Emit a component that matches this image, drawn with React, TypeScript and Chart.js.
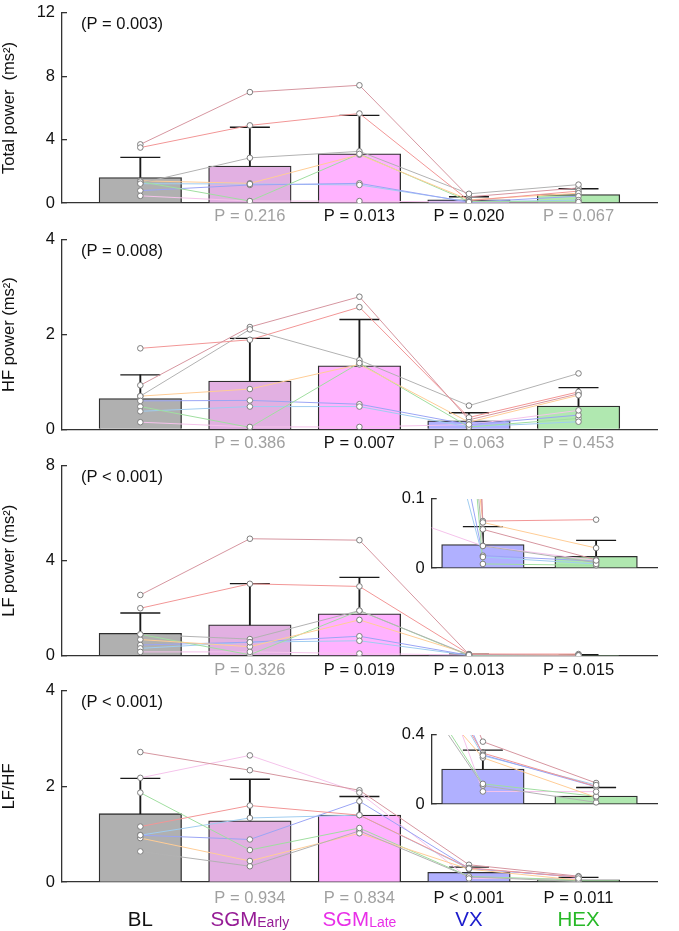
import React, { useEffect, useRef } from 'react';
import { Chart, registerables } from 'chart.js';

Chart.register(...registerables);

// ---------------- data ----------------
const CATEGORY_X = [0, 1, 2, 3, 4];
const CATEGORIES = ['BL', 'SGM', 'SGM', 'VX', 'HEX'];
const CATEGORY_SUBS = ['', 'Early', 'Late', '', ''];

// Total power (ms²)
const TOTAL_TICKS = [0, 4, 8, 12];
const TOTAL_MEAN = [1.6, 2.33, 3.1, 0.2, 0.53];
const TOTAL_SD_TOP = [2.88, 4.78, 5.53, 0.39, 0.9];
const TOTAL_SUBJECTS = [
  [3.7, 7.0, 7.43, 0.39, 0.95],
  [3.5, 4.9, 5.65, 0.15, 0.75],
  [1.25, 2.85, 3.26, 0.58, 1.16],
  [1.4, 1.24, 3.05, 0.2, 0.62],
  [1.35, 0.12, 3.1, 0.1, 0.1],
  [0.78, 1.14, 1.24, 0.05, 0.43],
  [1.22, 1.2, 1.14, 0.08, 0.18],
  [0.45, 0.12, 0.12, 0.06, 0.06],
];
const TOTAL_P = ['', 'P = 0.216', 'P = 0.013', 'P = 0.020', 'P = 0.067'];
const TOTAL_OVERALL = '(P = 0.003)';

// HF power (ms²)
const HF_TICKS = [0, 2, 4];
const HF_MEAN = [0.65, 1.02, 1.34, 0.18, 0.49];
const HF_SD_TOP = [1.15, 1.92, 2.32, 0.35, 0.88];
const HF_SUBJECTS = [
  [0.93, 2.16, 2.8, 0.2, 0.75],
  [1.71, 1.89, 2.58, 0.25, 0.79],
  [0.7, 2.11, 1.46, 0.5, 1.18],
  [0.7, 0.85, 1.37, 0.15, 0.72],
  [0.48, 0.04, 1.4, 0.05, 0.23],
  [0.6, 0.61, 0.53, 0.1, 0.3],
  [0.38, 0.48, 0.48, 0.05, 0.16],
  [0.15, 0.05, 0.05, 0.1, 0.4],
];
const HF_P = ['', 'P = 0.386', 'P = 0.007', 'P = 0.063', 'P = 0.453'];
const HF_OVERALL = '(P = 0.008)';

// LF power (ms²)
const LF_TICKS = [0, 4, 8];
const LF_INSET_TICKS = [0, 0.1];
const LF_MEAN = [0.94, 1.3, 1.77, 0.034, 0.017];
const LF_SD_TOP = [1.8, 3.04, 3.3, 0.06, 0.04];
const LF_SUBJECTS = [
  [2.56, 4.93, 4.87, 0.056, 0.012],
  [2.0, 3.03, 2.92, 0.068, 0.07],
  [0.9, 0.7, 1.9, 0.032, 0.008],
  [0.68, 0.38, 1.51, 0.066, 0.029],
  [0.9, 0.04, 1.9, 0.006, 0.004],
  [0.45, 0.57, 0.82, 0.018, 0.01],
  [0.31, 0.57, 0.63, 0.016, 0.006],
  [0.16, 0.16, 0.09, 0.032, 0.011],
];
const LF_P = ['', 'P = 0.326', 'P = 0.019', 'P = 0.013', 'P = 0.015'];
const LF_OVERALL = '(P < 0.001)';

// LF/HF
const RATIO_TICKS = [0, 2, 4];
const RATIO_INSET_TICKS = [0, 0.4];
const RATIO_MEAN = [1.43, 1.28, 1.4, 0.202, 0.046];
const RATIO_SD_TOP = [2.17, 2.15, 1.79, 0.312, 0.096];
const RATIO_SUBJECTS = [
  [2.72, 2.34, 1.92, 0.361, 0.122],
  [1.16, 1.6, 1.4, 0.295, 0.102],
  [0.64, 0.33, 1.07, 0.107, 0.01],
  [0.92, 0.44, 1.02, 0.268, 0.039],
  [1.87, 0.67, 1.13, 0.117, 0.045],
  [0.98, 0.89, 1.69, 0.285, 0.1],
  [0.98, 1.34, 1.4, 0.28, 0.11],
  [2.18, 2.65, 1.87, 0.073, 0.072],
];
const RATIO_P = ['', 'P = 0.934', 'P = 0.834', 'P < 0.001', 'P = 0.011'];
const RATIO_OVERALL = '(P < 0.001)';

// ---------------- styles / layout ----------------
const FONT = '"Liberation Sans", Arial, Helvetica, sans-serif';
const W = 679;
const H = 931;
const AXIS_COLOR = '#333333';
const TEXT_COLOR = '#111111';
const GRAY_TEXT = 'rgb(160,160,160)';
const ERR_COLOR = '#1a1a1a';
const BAR_EDGE = '#2e2e2e';
const BAR_COLORS = ['rgb(176,176,176)', 'rgb(226,176,226)', 'rgb(255,178,255)', 'rgb(176,176,255)', 'rgb(176,232,176)'];
const LABEL_COLORS = ['#111111', 'rgb(150,28,150)', 'rgb(232,48,232)', 'rgb(28,28,205)', 'rgb(40,185,40)'];
const SUBJECT_COLORS = [
  'rgb(214,150,160)',
  'rgb(242,150,150)',
  'rgb(178,178,178)',
  'rgb(255,205,150)',
  'rgb(160,222,160)',
  'rgb(155,165,245)',
  'rgb(160,205,240)',
  'rgb(245,195,235)',
];
const X_MIN = -0.715;
const X_MAX = 4.722;
const INSET_X_MIN = 2.548;
const INSET_X_MAX = 4.543;
const AXIS_LEFT = 62;
const INSET_LEFT = 431.7;
const INSET_RIGHT = 657.7;

const isSig = (t: string) => t.includes('<') || parseFloat(t.split('=')[1]) < 0.05;

type Cfg = {
  means: number[];
  sdTop: number[];
  subjects: number[][];
  ticks: number[];
  title?: string;
  pLabels?: string[];
  overall?: string;
  showCats?: boolean;
  pOffset?: number;
  inset?: boolean;
  top: number;
  bottom: number;
};

function geometry(c: Cfg) {
  if (c.inset) {
    const canvasTop = Math.floor(c.top) - 14;
    const canvasH = Math.ceil(c.bottom - canvasTop) + 16;
    return {
      canvasTop,
      canvasH,
      padding: {
        left: INSET_LEFT - AXIS_LEFT,
        right: W - INSET_RIGHT,
        top: c.top - canvasTop,
        bottom: canvasH - (c.bottom - canvasTop),
      },
    };
  }
  const canvasTop = Math.floor(c.top) - 16;
  const canvasH = c.showCats ? H - canvasTop : Math.ceil(c.bottom - canvasTop) + 32;
  return {
    canvasTop,
    canvasH,
    padding: { left: 0, right: 1, top: c.top - canvasTop, bottom: canvasH - (c.bottom - canvasTop) },
  };
}

function buildConfig(c: Cfg, padding: any): any {
  const clip = c.inset ? 0 : undefined;
  const datasets: any[] = [
    {
      type: 'bar',
      data: CATEGORY_X.map((x, i) => ({ x, y: c.means[i] })),
      backgroundColor: BAR_COLORS,
      borderColor: BAR_EDGE,
      borderWidth: 1.3,
      barThickness: 82.5,
      grouped: false,
      order: 10,
      clip,
    },
    {
      type: 'bar',
      data: CATEGORY_X.map((x, i) => ({ x, y: [c.means[i], c.sdTop[i]] })),
      backgroundColor: ERR_COLOR,
      borderWidth: 0,
      barThickness: 1.2,
      grouped: false,
      order: 9,
      clip,
    },
    {
      type: 'scatter',
      data: CATEGORY_X.map((x, i) => ({ x, y: c.sdTop[i] })),
      pointStyle: 'line',
      pointRadius: 20,
      pointBorderWidth: 1.4,
      pointBorderColor: ERR_COLOR,
      borderColor: ERR_COLOR,
      order: 8,
      clip,
    },
    ...c.subjects.map((s, k) => ({
      type: 'line',
      data: CATEGORY_X.map((x, i) => ({ x, y: s[i] })),
      borderColor: SUBJECT_COLORS[k],
      borderWidth: 1,
      pointRadius: 0,
      tension: 0,
      fill: false,
      order: 5,
      clip,
    })),
    {
      type: 'scatter',
      data: c.subjects.flatMap((s) => CATEGORY_X.map((x, i) => ({ x, y: s[i] }))),
      pointRadius: 2.8,
      pointBorderWidth: 1,
      pointBackgroundColor: '#ffffff',
      pointBorderColor: 'rgb(125,125,125)',
      order: 1,
      clip: c.inset ? { left: 0, top: 4, right: 4, bottom: 4 } : undefined,
    },
  ];

  const textPlugin = {
    id: 'panelText',
    afterDraw(chart: any) {
      const { ctx, chartArea } = chart;
      const xs = chart.scales.x;
      ctx.save();
      ctx.textBaseline = 'middle';
      ctx.font = `16.5px ${FONT}`;
      if (c.overall) {
        ctx.textAlign = 'left';
        ctx.fillStyle = TEXT_COLOR;
        ctx.fillText(c.overall, chartArea.left + 19, chartArea.top + 11.5);
      }
      if (c.pLabels) {
        ctx.textAlign = 'center';
        c.pLabels.forEach((t, i) => {
          if (!t) return;
          ctx.fillStyle = isSig(t) ? TEXT_COLOR : GRAY_TEXT;
          ctx.fillText(t, xs.getPixelForValue(CATEGORY_X[i]), chartArea.bottom + (c.pOffset || 14));
        });
      }
      if (c.showCats) {
        ctx.textBaseline = 'alphabetic';
        ctx.textAlign = 'left';
        CATEGORIES.forEach((name, i) => {
          const sub = CATEGORY_SUBS[i];
          ctx.font = `20.5px ${FONT}`;
          const w1 = ctx.measureText(name).width;
          ctx.font = `14px ${FONT}`;
          const w2 = sub ? ctx.measureText(sub).width : 0;
          const x0 = xs.getPixelForValue(CATEGORY_X[i]) - (w1 + w2) / 2;
          ctx.fillStyle = LABEL_COLORS[i];
          ctx.font = `20.5px ${FONT}`;
          ctx.fillText(name, x0, 925.5 - chart.canvas.offsetTop);
          if (sub) {
            ctx.font = `14px ${FONT}`;
            ctx.fillText(sub, x0 + w1, 927 - chart.canvas.offsetTop);
          }
        });
      }
      ctx.restore();
    },
  };

  return {
    type: 'bar',
    data: { datasets },
    options: {
      animation: false,
      responsive: false,
      devicePixelRatio: 1,
      events: [],
      layout: { padding },
      plugins: { legend: { display: false }, tooltip: { enabled: false } },
      scales: {
        x: {
          type: 'linear',
          min: c.inset ? INSET_X_MIN : X_MIN,
          max: c.inset ? INSET_X_MAX : X_MAX,
          offset: false,
          ticks: { display: false },
          grid: { display: false },
          border: { display: true, color: AXIS_COLOR, width: 1.3 },
          afterFit: (s: any) => {
            s.height = 0;
          },
        },
        y: {
          type: 'linear',
          min: c.ticks[0],
          max: c.ticks[c.ticks.length - 1],
          afterBuildTicks: (s: any) => {
            s.ticks = c.ticks.map((v) => ({ value: v }));
          },
          afterFit: (s: any) => {
            s.width = AXIS_LEFT;
          },
          ticks: {
            padding: 12,
            color: TEXT_COLOR,
            font: { family: FONT, size: 16.5 },
            callback: (v: any) => `${+Number(v).toFixed(3)}`,
          },
          grid: {
            display: true,
            drawOnChartArea: false,
            drawTicks: true,
            tickLength: -5,
            color: AXIS_COLOR,
            lineWidth: 1.3,
          },
          border: { display: true, color: AXIS_COLOR, width: 1.3 },
          title: {
            display: !!c.title,
            text: c.title || '',
            padding: 0,
            color: TEXT_COLOR,
            font: { family: FONT, size: 16.5 },
          },
        },
      },
    },
    plugins: [textPlugin],
  };
}

function Panel({ cfg }: { cfg: Cfg }) {
  const ref = useRef<HTMLCanvasElement | null>(null);
  const g = geometry(cfg);
  useEffect(() => {
    if (!ref.current) return;
    const chart = new Chart(ref.current, buildConfig(cfg, g.padding));
    return () => chart.destroy();
  }, []);
  return (
    <canvas
      ref={ref}
      width={W}
      height={g.canvasH}
      style={{ position: 'absolute', left: 0, top: g.canvasTop, width: W, height: g.canvasH }}
    />
  );
}

const PANELS: Cfg[] = [
  { means: TOTAL_MEAN, sdTop: TOTAL_SD_TOP, subjects: TOTAL_SUBJECTS, ticks: TOTAL_TICKS, title: 'Total power  (ms²)', pLabels: TOTAL_P, overall: TOTAL_OVERALL, top: 7, bottom: 203, pOffset: 13.5 },
  { means: HF_MEAN, sdTop: HF_SD_TOP, subjects: HF_SUBJECTS, ticks: HF_TICKS, title: 'HF power (ms²)', pLabels: HF_P, overall: HF_OVERALL, top: 234.3, bottom: 429.3, pOffset: 14 },
  { means: LF_MEAN, sdTop: LF_SD_TOP, subjects: LF_SUBJECTS, ticks: LF_TICKS, title: 'LF power (ms²)', pLabels: LF_P, overall: LF_OVERALL, top: 460, bottom: 655.7, pOffset: 14.5 },
  { means: RATIO_MEAN, sdTop: RATIO_SD_TOP, subjects: RATIO_SUBJECTS, ticks: RATIO_TICKS, title: 'LF/HF', pLabels: RATIO_P, overall: RATIO_OVERALL, top: 685.7, bottom: 882, pOffset: 16, showCats: true },
  { means: LF_MEAN, sdTop: LF_SD_TOP, subjects: LF_SUBJECTS, ticks: LF_INSET_TICKS, inset: true, top: 491, bottom: 573.3 },
  { means: RATIO_MEAN, sdTop: RATIO_SD_TOP, subjects: RATIO_SUBJECTS, ticks: RATIO_INSET_TICKS, inset: true, top: 727.7, bottom: 809.7 },
];

export default function App() {
  return (
    <div style={{ position: 'absolute', left: 0, top: 0, width: W, height: H, background: '#ffffff', overflow: 'hidden' }}>
      {PANELS.map((p, i) => (
        <Panel key={i} cfg={p} />
      ))}
    </div>
  );
}
